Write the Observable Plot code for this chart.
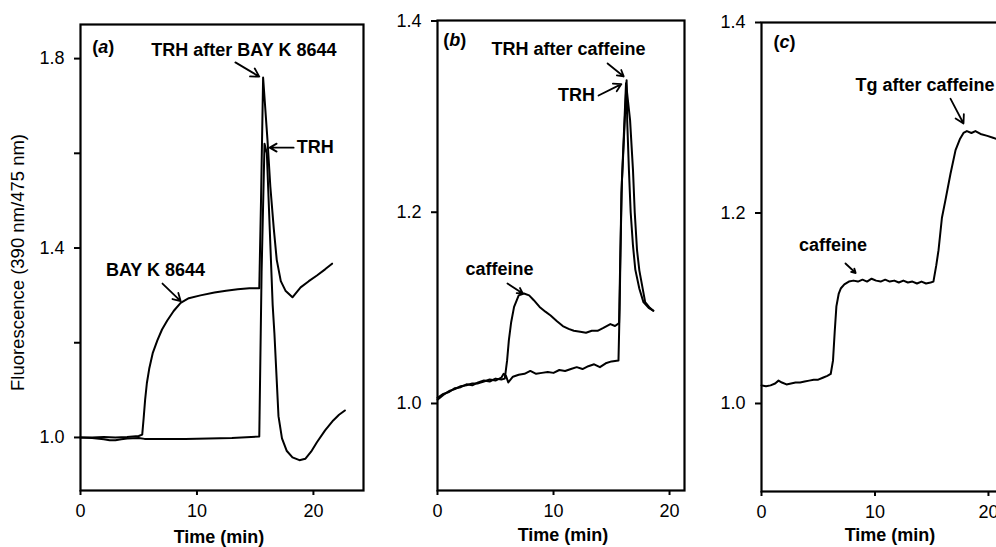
<!DOCTYPE html>
<html>
<head>
<meta charset="utf-8">
<script src="https://cdn.jsdelivr.net/npm/d3@7"></script>
<script src="https://cdn.jsdelivr.net/npm/@observablehq/plot@0.6"></script>
<style>
  html, body { margin: 0; padding: 0; background: #fff; }
  #chart { position: relative; width: 996px; height: 547px; overflow: hidden; background: #fff; }
  #chart svg { position: absolute; top: 0; }
</style>
</head>
<body>
<div id="chart"></div>
<script>
// ---------- Panel (a) ----------
const aBayT = [0, 1, 2, 3, 4, 5, 5.3, 5.42, 5.55, 5.7, 5.9, 6.2, 6.6, 7.0, 7.45, 8.0, 8.6, 9.3, 10.3, 11.5, 12.5, 13.5, 14.5, 15.35, 15.5, 15.68, 16.05, 16.3, 16.6, 16.85, 17.2, 17.6, 18.2, 18.9, 19.6, 20.3, 21.0, 21.6];
const aBayV = [1.0, 1.0, 1.001, 1.0, 1.001, 1.003, 1.006, 1.04, 1.08, 1.115, 1.145, 1.178, 1.205, 1.228, 1.247, 1.267, 1.284, 1.294, 1.30, 1.306, 1.31, 1.313, 1.315, 1.315, 1.5, 1.76, 1.63, 1.53, 1.44, 1.375, 1.33, 1.31, 1.296, 1.317, 1.33, 1.342, 1.355, 1.367];
const aTrhT = [0, 1, 2, 2.5, 3, 3.5, 4, 5, 5.5, 7, 9, 11, 13, 15.35, 15.55, 15.8, 16.0, 16.25, 16.5, 16.65, 16.85, 17.0, 17.3, 17.7, 18.2, 18.8, 19.3, 19.8, 20.3, 21.0, 21.7, 22.2, 22.7];
const aTrhV = [1.0, 0.999, 0.996, 0.994, 0.994, 0.996, 0.998, 0.999, 0.997, 0.997, 0.997, 0.998, 0.999, 1.002, 1.35, 1.62, 1.60, 1.44, 1.28, 1.22, 1.12, 1.045, 0.998, 0.972, 0.958, 0.952, 0.955, 0.97, 0.99, 1.015, 1.036, 1.048, 1.057];

// ---------- Panel (b) ----------
const bCafT = [0, 0.5, 1, 1.5, 2, 2.5, 3, 3.5, 4, 4.5, 5, 5.5, 5.8, 6.0, 6.15, 6.35, 6.6, 7.0, 7.45, 7.9, 8.3, 8.8, 9.3, 9.75, 10.3, 10.8, 11.3, 11.75, 12.3, 12.8, 13.3, 13.8, 14.3, 14.9, 15.3, 15.65, 15.75, 15.9, 16.3, 16.35, 16.5, 16.65, 16.85, 17.05, 17.4, 17.75, 18.2, 18.6];
const bCafV = [1.006, 1.010, 1.012, 1.016, 1.017, 1.020, 1.019, 1.022, 1.024, 1.023, 1.026, 1.025, 1.026, 1.045, 1.066, 1.085, 1.101, 1.113, 1.115, 1.113, 1.108, 1.101, 1.096, 1.092, 1.086, 1.081, 1.078, 1.076, 1.075, 1.074, 1.076, 1.076, 1.079, 1.083, 1.081, 1.084, 1.15, 1.233, 1.338, 1.296, 1.244, 1.2, 1.165, 1.14, 1.12, 1.106, 1.1, 1.097];
const bTrhT = [0, 0.5, 1, 1.5, 2, 2.5, 3, 3.5, 4, 4.5, 5, 5.5, 5.7, 5.9, 6.1, 6.5, 7, 7.5, 8, 8.5, 9, 9.5, 10, 10.5, 11, 11.5, 12, 12.5, 13, 13.5, 14, 14.5, 15, 15.6, 15.7, 15.85, 16.25, 16.6, 16.85, 17.0, 17.2, 17.4, 17.9, 18.3, 18.6];
const bTrhV = [1.004, 1.009, 1.013, 1.015, 1.018, 1.019, 1.021, 1.021, 1.023, 1.025, 1.024, 1.027, 1.031, 1.029, 1.022, 1.028, 1.030, 1.031, 1.034, 1.031, 1.032, 1.033, 1.032, 1.035, 1.034, 1.036, 1.038, 1.036, 1.039, 1.041, 1.038, 1.042, 1.044, 1.045, 1.10, 1.22, 1.335, 1.296, 1.244, 1.2, 1.16, 1.139, 1.106, 1.1, 1.097];

// ---------- Panel (c) ----------
const cT = [0, 0.4, 0.8, 1.2, 1.5, 1.8, 2.2, 2.6, 3.0, 3.4, 3.8, 4.2, 4.6, 5.0, 5.4, 5.8, 6.1, 6.3, 6.45, 6.6, 6.8, 7.0, 7.3, 7.7, 8.1, 8.5, 8.9, 9.3, 9.7, 10.1, 10.5, 10.9, 11.3, 11.7, 12.1, 12.5, 12.9, 13.3, 13.7, 14.1, 14.5, 14.9, 15.15, 15.4, 15.6, 15.9, 16.2, 16.65, 17.1, 17.5, 17.8, 18.1, 18.5, 18.85, 19.3, 19.9, 20.4, 20.9, 21.5];
const cV = [1.019, 1.018, 1.019, 1.021, 1.024, 1.022, 1.020, 1.021, 1.022, 1.022, 1.023, 1.024, 1.025, 1.025, 1.027, 1.029, 1.031, 1.045, 1.075, 1.102, 1.115, 1.121, 1.125, 1.128, 1.129, 1.128, 1.130, 1.128, 1.131, 1.129, 1.128, 1.130, 1.128, 1.129, 1.127, 1.129, 1.127, 1.128, 1.126, 1.128, 1.126, 1.127, 1.128, 1.145, 1.161, 1.195, 1.213, 1.241, 1.266, 1.278, 1.284, 1.286, 1.284, 1.286, 1.283, 1.281, 1.279, 1.277, 1.276];

// ---------- Tick values ----------
const xTicks = [0, 10, 20];
const aYTicks = [1.0, 1.2, 1.4, 1.6, 1.8];
const aYLabelled = [1.0, 1.4, 1.8];
const bcYTicks = [1.0, 1.2, 1.4];

// ---------- Annotations (data coordinates) ----------
const tagA = [{t: 1.0, v: 1.823, text: "(a)"}];
const labelsA = [
  {t: 14.03, v: 1.817, text: "TRH after BAY K 8644"},
  {t: 20.15, v: 1.612, text: "TRH"},
  {t: 6.44, v: 1.3525, text: "BAY K 8644"}
];
const arrowsA = [
  {t1: 13.3, v1: 1.792, t2: 15.35, v2: 1.762},
  {t1: 18.3, v1: 1.612, t2: 16.25, v2: 1.612},
  {t1: 7.04, v1: 1.325, t2: 8.6, v2: 1.288}
];
const tagB = [{t: 0.5, v: 1.38, text: "(b)"}];
const labelsB = [
  {t: 11.3, v: 1.370, text: "TRH after caffeine"},
  {t: 11.98, v: 1.322, text: "TRH"},
  {t: 5.34, v: 1.140, text: "caffeine"}
];
const arrowsB = [
  {t1: 14.66, v1: 1.3556, t2: 16.05, v2: 1.342},
  {t1: 13.88, v1: 1.322, t2: 15.85, v2: 1.334},
  {t1: 6.03, v1: 1.1255, t2: 7.35, v2: 1.115}
];
const tagC = [{t: 1.06, v: 1.379, text: "(c)"}];
const labelsC = [
  {t: 14.4, v: 1.334, text: "Tg after caffeine"},
  {t: 6.3, v: 1.166, text: "caffeine"}
];
const arrowsC = [
  {t1: 16.65, v1: 1.320, t2: 17.8, v2: 1.294},
  {t1: 7.4, v1: 1.147, t2: 8.3, v2: 1.137}
];

const FONT = '"Liberation Sans", Arial, Helvetica, sans-serif';
const pts = (T, V) => T.map((t, i) => ({t, v: V[i]}));

function panel(o) {
  const marks = [
    Plot.frame({stroke: "black", strokeWidth: 2.2}),
    Plot.axisY({
      ticks: o.yTicks,
      tickFormat: d => (o.yLabelled.some(l => Math.abs(l - d) < 1e-9) ? d3.format(".1f")(d) : ""),
      tickSize: 6, tickPadding: 10, strokeWidth: 2, label: null, fontSize: 18
    }),
    Plot.axisX({ticks: xTicks, tickSize: 5, tickPadding: 9, strokeWidth: 2, label: null, fontSize: 18}),
    ...o.series.map(s => Plot.line(s, {x: "t", y: "v", stroke: "black", strokeWidth: 2, strokeLinejoin: "round", curve: "linear"})),
    Plot.arrow(o.arrows, {x1: "t1", y1: "v1", x2: "t2", y2: "v2", stroke: "black", strokeWidth: 1.8, headLength: 9}),
    Plot.text(o.labels, {x: "t", y: "v", text: "text", textAnchor: "middle", fontWeight: "bold", fontSize: 18, fill: "black"}),
    Plot.text(o.tag, {x: "t", y: "v", text: "text", textAnchor: "start", fontWeight: "bold", fontSize: 18, fill: "black"}),
    Plot.text(["Time (min)"], {frameAnchor: "bottom", textAnchor: "middle", lineAnchor: "middle", dx: o.timeDx, dy: o.timeDy, fontWeight: "bold", fontSize: 18, fill: "black"})
  ];
  if (o.ylabel) {
    marks.push(Plot.text([o.ylabel], {frameAnchor: "left", textAnchor: "middle", lineAnchor: "middle", dx: -62, dy: 5, rotate: -90, fontSize: 18.5, fill: "black"}));
  }
  const svg = Plot.plot({
    width: o.width, height: 547,
    marginLeft: o.ml, marginRight: o.mr, marginTop: o.mt, marginBottom: 547 - o.bottom,
    x: {domain: o.xDomain},
    y: {domain: o.yDomain},
    style: {fontFamily: FONT, fontSize: "18px", color: "black", background: "transparent", overflow: "visible"},
    marks
  });
  svg.style.left = o.left + "px";
  svg.querySelectorAll("text").forEach(t => {
    const m = /^\(([abc])\)$/.exec(t.textContent);
    if (m) t.innerHTML = '(<tspan font-style="italic">' + m[1] + '</tspan>)';
  });
  return svg;
}

const chart = document.getElementById("chart");
chart.appendChild(panel({
  left: 0, width: 370, ml: 80, mr: 7, mt: 24, bottom: 490,
  xDomain: [0, 24.3], yDomain: [0.888, 1.872],
  yTicks: aYTicks, yLabelled: aYLabelled,
  series: [pts(aBayT, aBayV), pts(aTrhT, aTrhV)],
  labels: labelsA, tag: tagA, arrows: arrowsA,
  timeDx: -3, timeDy: 47,
  ylabel: "Fluorescence (390 nm/475 nm)"
}));
chart.appendChild(panel({
  left: 370, width: 320, ml: 67, mr: 6, mt: 20, bottom: 490,
  xDomain: [0, 21.29], yDomain: [0.909, 1.4005],
  yTicks: bcYTicks, yLabelled: bcYTicks,
  series: [pts(bCafT, bCafV), pts(bTrhT, bTrhV)],
  labels: labelsB, tag: tagB, arrows: arrowsB,
  timeDx: 2, timeDy: 45
}));
chart.appendChild(panel({
  left: 690, width: 320, ml: 71, mr: 4, mt: 22, bottom: 491,
  xDomain: [0, 21.59], yDomain: [0.9076, 1.4],
  yTicks: bcYTicks, yLabelled: bcYTicks,
  series: [pts(cT, cV)],
  labels: labelsC, tag: tagC, arrows: arrowsC,
  timeDx: 6, timeDy: 44
}));
</script>
</body>
</html>
